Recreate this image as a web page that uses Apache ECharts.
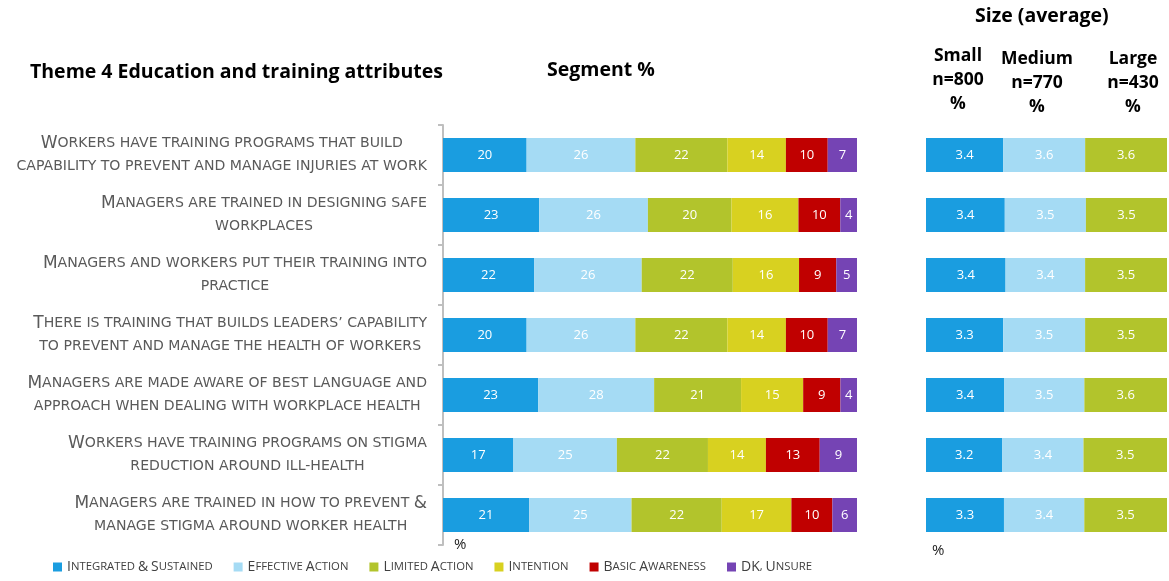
<!DOCTYPE html>
<html>
<head>
<meta charset="utf-8">
<script src="https://cdn.jsdelivr.net/npm/echarts@6/dist/echarts.min.js"></script>
<style>
html, body { margin: 0; padding: 0; background: #fff; }
#chart { width: 1169px; height: 581px; }
</style>
</head>
<body>
<div id="chart"></div>
<script>
// statements (top to bottom)
var attributes = [
	'Workers have training programs that build\ncapability to prevent and manage injuries at work',
	'Managers are trained in designing safe\nworkplaces',
	'Managers and workers put their training into\npractice',
	'There is training that builds leaders\u2019 capability\nto prevent and manage the health of workers',
	'Managers are made aware of best language and\napproach when dealing with workplace health',
	'Workers have training programs on stigma\nreduction around ill-health',
	'Managers are trained in how to prevent &\nmanage stigma around worker health'
];

// segment % per maturity level
var segmentNames = ['Integrated & Sustained', 'Effective Action', 'Limited Action', 'Intention', 'Basic Awareness', 'DK, Unsure'];
var integrated = [20, 23, 22, 20, 23, 17, 21];
var effective = [26, 26, 26, 26, 28, 25, 25];
var limited = [22, 20, 22, 22, 21, 22, 22];
var intention = [14, 16, 16, 14, 15, 14, 17];
var basic = [10, 10, 9, 10, 9, 13, 10];
var unsure = [7, 4, 5, 7, 4, 9, 6];

// size averages
var sizeNames = ['Small', 'Medium', 'Large'];
var sizeN = [800, 770, 430];
var small = [3.4, 3.4, 3.4, 3.3, 3.4, 3.2, 3.3];
var medium = [3.6, 3.5, 3.4, 3.5, 3.5, 3.4, 3.4];
var large = [3.6, 3.5, 3.5, 3.5, 3.6, 3.5, 3.5];

var segColors = ['#1a9de0', '#a5dbf4', '#b2c42c', '#d8d120', '#c00000', '#7544b4'];

// turns "Workers have" into rich tokens that look like small caps
function smallCaps(text, big, sm) {
	var out = '';
	var re = /([A-Z&]+)|([^A-Z&\n]+)|(\n)/g;
	var m;
	while ((m = re.exec(text)) !== null) {
		if (m[1]) out += '{' + big + '|' + m[1] + '}';
		else if (m[2]) out += '{' + sm + '|' + m[2].toUpperCase() + '}';
		else out += '\n';
	}
	return out;
}

var segData = [integrated, effective, limited, intention, basic, unsure];
var sizeData = [small, medium, large];

function rowTotals(sets) {
	var t = [];
	for (var i = 0; i < attributes.length; i++) {
		var s = 0;
		sets.forEach(function(a) { s += a[i]; });
		t.push(s);
	}
	return t;
}
var segTotals = rowTotals(segData);
var sizeTotals = rowTotals(sizeData);

var series = [];
segData.forEach(function(arr, k) {
	series.push({
		name: segmentNames[k],
		type: 'bar',
		stack: 'seg',
		xAxisIndex: 0,
		yAxisIndex: 0,
		barWidth: 34,
		itemStyle: { color: segColors[k] },
		label: {
			show: true,
			color: '#fff',
			fontFamily: 'Open Sans',
			fontSize: 13,
			formatter: function(p) { return arr[p.dataIndex]; }
		},
		data: arr.map(function(v, i) { return v / segTotals[i] * 100; })
	});
});
sizeData.forEach(function(arr, k) {
	series.push({
		name: sizeNames[k],
		type: 'bar',
		stack: 'size',
		xAxisIndex: 1,
		yAxisIndex: 1,
		barWidth: 34,
		itemStyle: { color: segColors[k] },
		label: {
			show: true,
			color: '#fff',
			fontFamily: 'Open Sans',
			fontSize: 13,
			formatter: function(p) { return arr[p.dataIndex].toFixed(1); }
		},
		data: arr.map(function(v, i) { return v / sizeTotals[i] * 100; })
	});
});

var labelRich = {
	b: { fontFamily: 'DejaVu Sans', fontSize: 17, color: '#5a5a5a', align: 'center', lineHeight: 23 },
	s: { fontFamily: 'DejaVu Sans', fontSize: 14.1, color: '#5a5a5a', align: 'center', lineHeight: 23 }
};

var chart = echarts.init(document.getElementById('chart'));
chart.setOption({
	animation: false,
	grid: [
		{ left: 443, right: 312, top: 125, height: 420 },
		{ left: 926, right: 2, top: 125, height: 420 }
	],
	xAxis: [
		{ gridIndex: 0, type: 'value', min: 0, max: 100, show: false },
		{ gridIndex: 1, type: 'value', min: 0, max: 100, show: false }
	],
	yAxis: [
		{
			gridIndex: 0,
			type: 'category',
			inverse: true,
			data: attributes,
			offset: 4,
			axisLine: { show: true, lineStyle: { color: '#bfbfbf', width: 2 } },
			axisTick: { show: true, length: 5, lineStyle: { color: '#bfbfbf', width: 2 } },
			axisLabel: {
				margin: 12,
				align: 'right',
				formatter: function(v) { return smallCaps(v, 'b', 's'); },
				rich: labelRich
			}
		},
		{ gridIndex: 1, type: 'category', inverse: true, data: attributes, show: false }
	],
	legend: {
		data: segmentNames,
		left: 48,
		bottom: 2,
		itemWidth: 9,
		itemHeight: 9,
		itemGap: 21,
		icon: 'rect',
		formatter: function(n) { return smallCaps(n, 'b', 's'); },
		textStyle: {
			rich: {
				b: { fontFamily: 'Open Sans', fontSize: 14, color: '#404040' },
				s: { fontFamily: 'Open Sans', fontSize: 11.3, color: '#404040' }
			}
		}
	},
	graphic: [
		{ type: 'text', left: 30, top: 62, style: { text: 'Theme 4 Education and training attributes', font: 'bold 19.5px "Open Sans"', fill: '#000' } },
		{ type: 'text', left: 547, top: 60, style: { text: 'Segment %', font: 'bold 19.5px "Open Sans"', fill: '#000' } },
		{ type: 'text', left: 975, top: 6, style: { text: 'Size (average)', font: 'bold 19.5px "Open Sans"', fill: '#000' } },
		{ type: 'text', x: 958, y: 44, style: { text: sizeNames[0] + '\nn=' + sizeN[0] + '\n%', font: 'bold 17.5px "Open Sans"', lineHeight: 24, align: 'center', fill: '#000' } },
		{ type: 'text', x: 1037, y: 47, style: { text: sizeNames[1] + '\nn=' + sizeN[1] + '\n%', font: 'bold 17.5px "Open Sans"', lineHeight: 24, align: 'center', fill: '#000' } },
		{ type: 'text', x: 1133, y: 47, style: { text: sizeNames[2] + '\nn=' + sizeN[2] + '\n%', font: 'bold 17.5px "Open Sans"', lineHeight: 24, align: 'center', fill: '#000' } },
		{ type: 'text', left: 454, top: 537, style: { text: '%', font: '15px "Open Sans"', fill: '#222' } },
		{ type: 'text', left: 932, top: 543, style: { text: '%', font: '15px "Open Sans"', fill: '#222' } }
	],
	series: series
});
</script>
</body>
</html>
